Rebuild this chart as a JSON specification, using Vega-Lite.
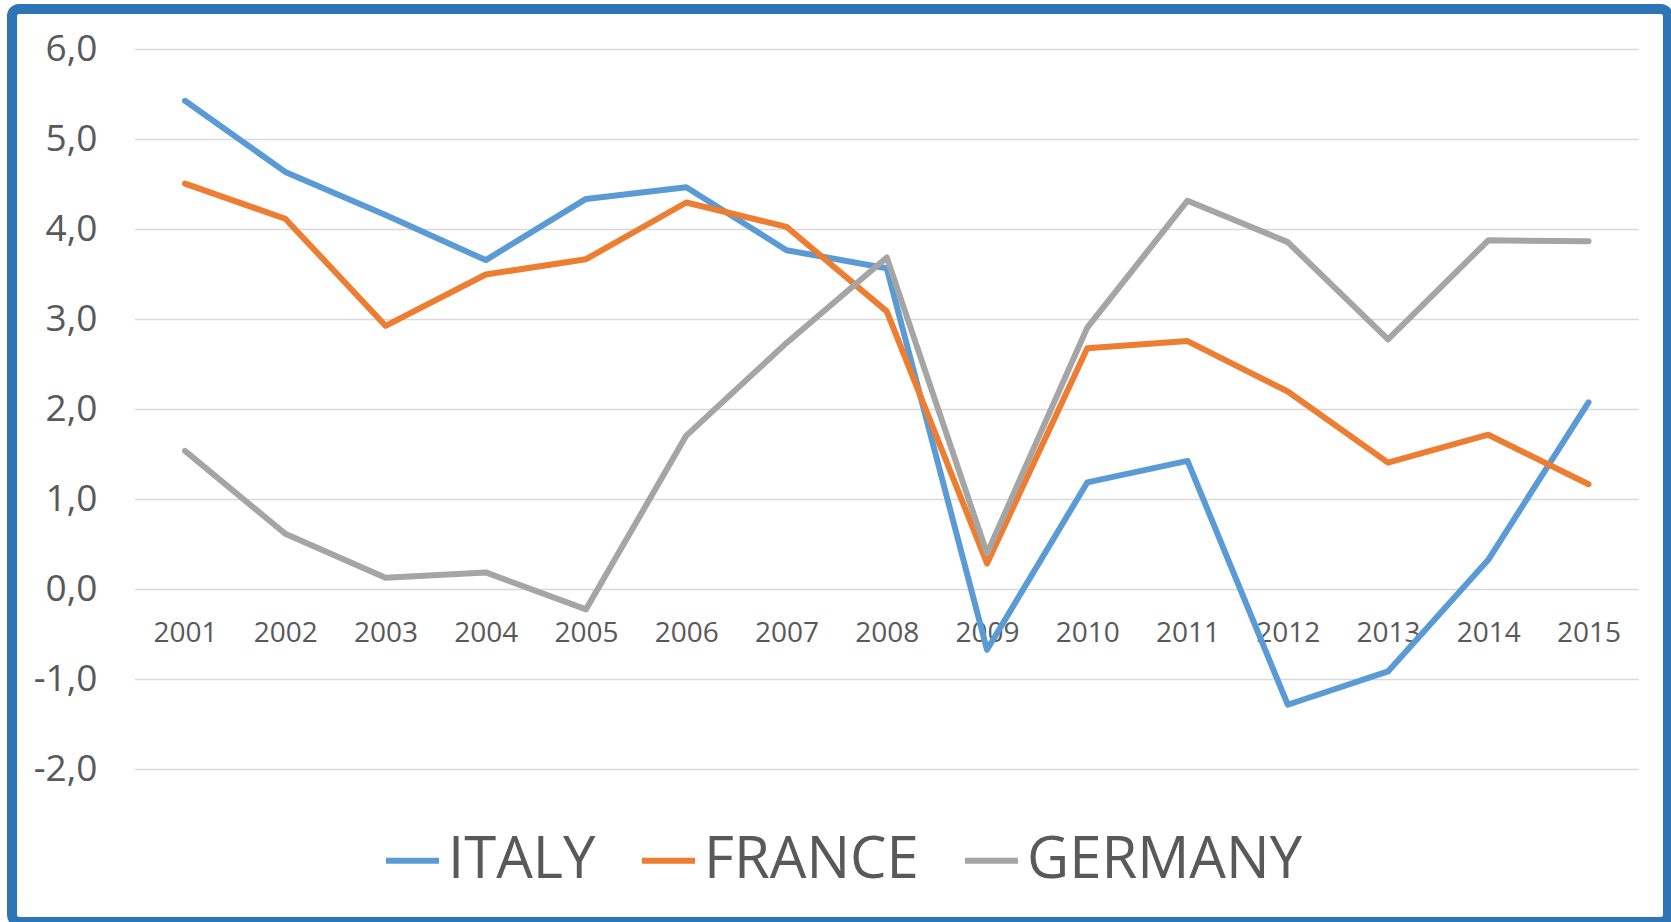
{
  "$schema": "https://vega.github.io/schema/vega-lite/v6.json",
  "width": 1656,
  "height": 913,
  "autosize": {"type": "none"},
  "padding": {"left": 12, "top": 9, "right": 3, "bottom": 0},
  "background": "white",
  "config": {
    "locale": {"number": {"decimal": ",", "thousands": ".", "grouping": [3], "currency": ["", " €"], "minus": "-"}},
    "view": {"stroke": "#2E75B6", "strokeWidth": 10, "cornerRadius": 7, "fill": "white"},
    "font": "Open Sans"
  },
  "datasets": {
    "grid": [{"v": -2}, {"v": -1}, {"v": 0}, {"v": 1}, {"v": 2}, {"v": 3}, {"v": 4}, {"v": 5}, {"v": 6}],
    "gdp": [
      {"year": 2001, "country": "ITALY", "value": 5.43},
      {"year": 2002, "country": "ITALY", "value": 4.64},
      {"year": 2003, "country": "ITALY", "value": 4.16},
      {"year": 2004, "country": "ITALY", "value": 3.66},
      {"year": 2005, "country": "ITALY", "value": 4.34},
      {"year": 2006, "country": "ITALY", "value": 4.47},
      {"year": 2007, "country": "ITALY", "value": 3.77},
      {"year": 2008, "country": "ITALY", "value": 3.57},
      {"year": 2009, "country": "ITALY", "value": -0.67},
      {"year": 2010, "country": "ITALY", "value": 1.19},
      {"year": 2011, "country": "ITALY", "value": 1.43},
      {"year": 2012, "country": "ITALY", "value": -1.28},
      {"year": 2013, "country": "ITALY", "value": -0.91},
      {"year": 2014, "country": "ITALY", "value": 0.33},
      {"year": 2015, "country": "ITALY", "value": 2.08},
      {"year": 2001, "country": "FRANCE", "value": 4.51},
      {"year": 2002, "country": "FRANCE", "value": 4.12},
      {"year": 2003, "country": "FRANCE", "value": 2.93},
      {"year": 2004, "country": "FRANCE", "value": 3.50},
      {"year": 2005, "country": "FRANCE", "value": 3.67},
      {"year": 2006, "country": "FRANCE", "value": 4.30},
      {"year": 2007, "country": "FRANCE", "value": 4.03},
      {"year": 2008, "country": "FRANCE", "value": 3.09},
      {"year": 2009, "country": "FRANCE", "value": 0.29},
      {"year": 2010, "country": "FRANCE", "value": 2.68},
      {"year": 2011, "country": "FRANCE", "value": 2.76},
      {"year": 2012, "country": "FRANCE", "value": 2.20},
      {"year": 2013, "country": "FRANCE", "value": 1.41},
      {"year": 2014, "country": "FRANCE", "value": 1.72},
      {"year": 2015, "country": "FRANCE", "value": 1.17},
      {"year": 2001, "country": "GERMANY", "value": 1.54},
      {"year": 2002, "country": "GERMANY", "value": 0.62},
      {"year": 2003, "country": "GERMANY", "value": 0.13},
      {"year": 2004, "country": "GERMANY", "value": 0.19},
      {"year": 2005, "country": "GERMANY", "value": -0.22},
      {"year": 2006, "country": "GERMANY", "value": 1.71},
      {"year": 2007, "country": "GERMANY", "value": 2.74},
      {"year": 2008, "country": "GERMANY", "value": 3.69},
      {"year": 2009, "country": "GERMANY", "value": 0.40},
      {"year": 2010, "country": "GERMANY", "value": 2.91},
      {"year": 2011, "country": "GERMANY", "value": 4.32},
      {"year": 2012, "country": "GERMANY", "value": 3.86},
      {"year": 2013, "country": "GERMANY", "value": 2.78},
      {"year": 2014, "country": "GERMANY", "value": 3.88},
      {"year": 2015, "country": "GERMANY", "value": 3.87}
    ]
  },
  "layer": [
    {
      "data": {"name": "grid"},
      "mark": {"type": "rule", "color": "#D9D9D9", "strokeWidth": 1.5},
      "encoding": {
        "y": {
          "field": "v", "type": "quantitative",
          "scale": {"domain": [-3.694, 6.45], "nice": false, "zero": false},
          "axis": {"orient": "left", "offset": -85, "values": [-2, -1, 0, 1, 2, 3, 4, 5, 6], "format": ".1f", "grid": false, "domain": false, "ticks": false, "tickSize": 0, "labelPadding": 0, "labelFontSize": 37, "labelColor": "#595959", "labelFont": "Open Sans", "title": null}
        },
        "x": {
          "datum": 2000.5, "type": "quantitative",
          "scale": {"domain": [1999.274, 2015.793], "nice": false, "zero": false},
          "axis": {"orient": "bottom", "offset": -289, "values": [2001, 2002, 2003, 2004, 2005, 2006, 2007, 2008, 2009, 2010, 2011, 2012, 2013, 2014, 2015], "format": "d", "grid": false, "domain": false, "ticks": false, "tickSize": 0, "labelPadding": 0, "labelBaseline": "middle", "labelFlush": false, "labelOverlap": false, "labelFontSize": 28, "labelColor": "#595959", "labelFont": "Open Sans", "title": null}
        },
        "x2": {"datum": 2015.5}
      }
    },
    {
      "data": {"name": "gdp"},
      "mark": {"type": "line", "strokeWidth": 6, "strokeCap": "round", "strokeJoin": "round"},
      "encoding": {
        "x": {
          "field": "year", "type": "quantitative",
          "scale": {"domain": [1999.274, 2015.793], "nice": false, "zero": false},
          "axis": {"orient": "bottom", "offset": -289, "values": [2001, 2002, 2003, 2004, 2005, 2006, 2007, 2008, 2009, 2010, 2011, 2012, 2013, 2014, 2015], "format": "d", "grid": false, "domain": false, "ticks": false, "tickSize": 0, "labelPadding": 0, "labelBaseline": "middle", "labelFlush": false, "labelOverlap": false, "labelFontSize": 28, "labelColor": "#595959", "labelFont": "Open Sans", "title": null}
        },
        "y": {
          "field": "value", "type": "quantitative",
          "scale": {"domain": [-3.694, 6.45], "nice": false, "zero": false},
          "axis": {"orient": "left", "offset": -85, "values": [-2, -1, 0, 1, 2, 3, 4, 5, 6], "format": ".1f", "grid": false, "domain": false, "ticks": false, "tickSize": 0, "labelPadding": 0, "labelFontSize": 37, "labelColor": "#595959", "labelFont": "Open Sans", "title": null}
        },
        "color": {
          "field": "country", "type": "nominal",
          "scale": {"domain": ["ITALY", "FRANCE", "GERMANY"], "range": ["#5B9BD5", "#ED7D31", "#A5A5A5"]},
          "legend": {"orient": "none", "legendX": 371, "legendY": 822, "direction": "horizontal", "title": null, "symbolType": "stroke", "symbolSize": 2809, "symbolStrokeWidth": 6, "labelFontSize": 58, "labelFont": "Open Sans", "labelColor": "#595959", "labelOffset": 6, "labelLimit": 1000, "columnPadding": 34, "padding": 0, "symbolOffset": 0}
        }
      }
    }
  ]
}
